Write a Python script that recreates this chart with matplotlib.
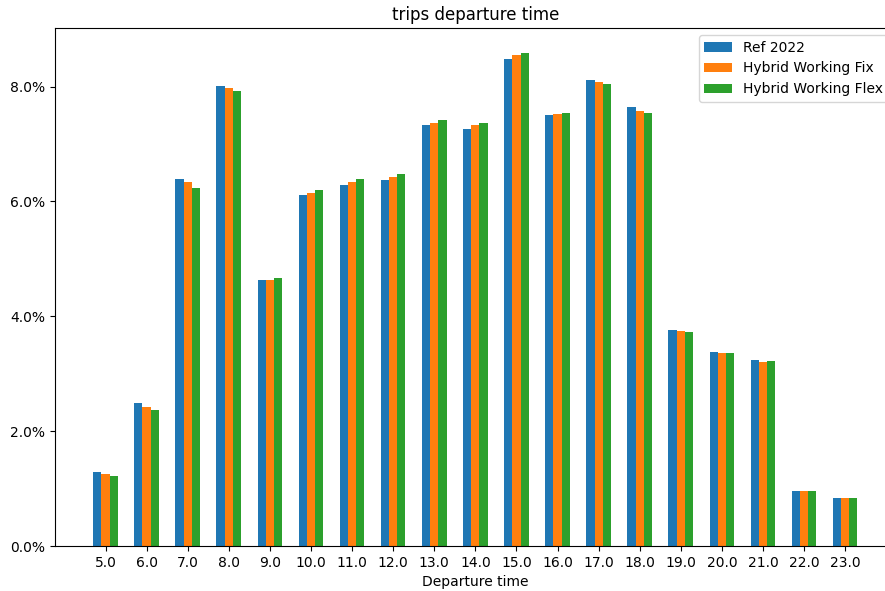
import numpy as np
import matplotlib
matplotlib.use("Agg")
import matplotlib.pyplot as plt
from matplotlib.ticker import PercentFormatter

hours = [5.0, 6.0, 7.0, 8.0, 9.0, 10.0, 11.0, 12.0, 13.0, 14.0, 15.0, 16.0,
         17.0, 18.0, 19.0, 20.0, 21.0, 22.0, 23.0]
ref_2022 = [1.29, 2.49, 6.39, 8.01, 4.63, 6.11, 6.29, 6.38, 7.33, 7.26, 8.48,
            7.51, 8.12, 7.65, 3.76, 3.38, 3.24, 0.96, 0.84]
hybrid_fix = [1.25, 2.42, 6.34, 7.98, 4.63, 6.15, 6.34, 6.43, 7.37, 7.33, 8.55,
              7.53, 8.08, 7.58, 3.75, 3.36, 3.21, 0.96, 0.84]
hybrid_flex = [1.22, 2.37, 6.24, 7.93, 4.67, 6.20, 6.39, 6.48, 7.42, 7.37, 8.59,
               7.54, 8.05, 7.54, 3.73, 3.36, 3.22, 0.96, 0.84]
series_names = ["Ref 2022", "Hybrid Working Fix", "Hybrid Working Flex"]

fig = plt.figure(figsize=(8.85, 5.91), dpi=100)
# axes run slightly past the right edge, as in the cropped original
ax = fig.add_axes([0.0621, 0.0761, 0.950, 0.8765])

x = np.array(hours)
w = 0.2
for k, (vals, name) in enumerate(zip([ref_2022, hybrid_fix, hybrid_flex], series_names)):
    ax.bar(x + (k - 1) * w, vals, width=w, label=name, color=f"C{k}")

ax.set_xticks(x)
ax.set_xticklabels([f"{h:.1f}" for h in hours])
ax.set_yticks([0, 2, 4, 6, 8])
ax.yaxis.set_major_formatter(PercentFormatter(xmax=100, decimals=1))
ax.set_ylim(0, 9.02)
ax.set_xlabel("Departure time")
ax.set_title("trips departure time")
ax.legend(loc="upper right")

fig.savefig("out.png", dpi=100)
